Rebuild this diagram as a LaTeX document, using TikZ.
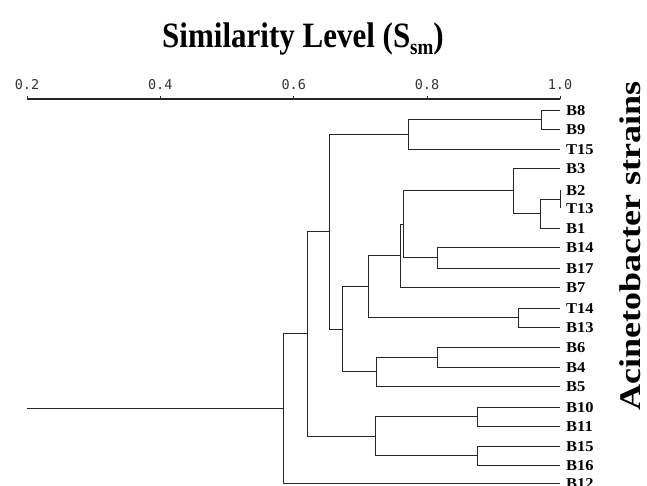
\documentclass[tikz,border=0pt]{standalone}
\usepackage{fontspec}
\setmainfont{Liberation Serif}
\newfontfamily\tickfont{DejaVu Sans Mono}
\begin{document}
\begin{tikzpicture}[x=1pt,y=-1pt,
  link/.style={line width=0.9pt, draw=black!85},
  axisline/.style={line width=1.7pt, draw=black!85},
  tickmark/.style={line width=1pt, draw=black!85},
  leaf/.style={anchor=west, inner xsep=6pt, inner ysep=0pt,
    font=\fontsize{15}{15}\selectfont\bfseries, text height=10pt, text depth=0pt},
  ticklabel/.style={font=\tickfont\fontsize{13.5}{13.5}\selectfont, inner sep=0pt, text=black!80},
  titletext/.style={font=\fontsize{31}{31}\selectfont\bfseries, inner sep=0pt, anchor=base},
  sidetext/.style={font=\fontsize{30}{30}\selectfont\bfseries, inner sep=0pt, rotate=90},
]
\useasboundingbox[fill=white] (0,0) rectangle (647,485);

% title
\node[titletext] (title) at (303,47) {\scalebox{1}[1.15]{Similarity Level (S\raisebox{-0.22em}{\fontsize{19}{19}\selectfont sm})}};

% axis
\foreach \k/\lab/\xx in {2/0.2/27, 4/0.4/160.3, 6/0.6/293.7, 8/0.8/427, 10/1.0/560} {
  \coordinate (t\k) at (\xx,99);
  \draw[tickmark] (t\k) -- ++(0,-3.5);
  \node[ticklabel] (l\k) at (\xx,85) {\lab};
}
\draw[axisline] (t2) -- (t10);

% leaves
\foreach \n/\yy in {B8/110, B9/129, T15/149, B3/168, B2/190, T13/208, B1/228,
  B14/247, B17/268, B7/287, T14/308, B13/327, B6/347, B4/367, B5/386,
  B10/407, B11/426, B15/446, B16/465, B12/483} {
  \node[leaf] (\n) at (560,\yy) {\scalebox{1.1}[1]{\n}};
}

% internal nodes
\coordinate (n1) at (541,119.5);
\coordinate (n2) at (408,134);
\coordinate (n3) at (560,199);
\coordinate (n4) at (540,213.5);
\coordinate (n5) at (513,190.75);
\coordinate (n6) at (437,257.5);
\coordinate (n7) at (403,224);
\coordinate (n8) at (400,255.5);
\coordinate (n9) at (518,317.5);
\coordinate (n10) at (368,286.5);
\coordinate (n11) at (437,357);
\coordinate (n12) at (376,371.5);
\coordinate (n13) at (342,329);
\coordinate (n14) at (329,231.5);
\coordinate (n15) at (477,416.5);
\coordinate (n16) at (477,455.5);
\coordinate (n17) at (375,436);
\coordinate (n18) at (307,333.75);
\coordinate (n19) at (283,408.4);
\coordinate (root) at (27,408.4);

% connectors
\draw[link] (n1) |- (B8.west);
\draw[link] (n1) |- (B9.west);
\draw[link] (n2) |- (n1);
\draw[link] (n2) |- (T15.west);
\draw[link] (n3) |- (B2.west);
\draw[link] (n3) |- (T13.west);
\draw[link] (n4) |- (n3);
\draw[link] (n4) |- (B1.west);
\draw[link] (n5) |- (B3.west);
\draw[link] (n5) |- (n4);
\draw[link] (n6) |- (B14.west);
\draw[link] (n6) |- (B17.west);
\draw[link] (n7) |- (n5);
\draw[link] (n7) |- (n6);
\draw[link] (n8) |- (n7);
\draw[link] (n8) |- (B7.west);
\draw[link] (n9) |- (T14.west);
\draw[link] (n9) |- (B13.west);
\draw[link] (n10) |- (n8);
\draw[link] (n10) |- (n9);
\draw[link] (n11) |- (B6.west);
\draw[link] (n11) |- (B4.west);
\draw[link] (n12) |- (n11);
\draw[link] (n12) |- (B5.west);
\draw[link] (n13) |- (n10);
\draw[link] (n13) |- (n12);
\draw[link] (n14) |- (n2);
\draw[link] (n14) |- (n13);
\draw[link] (n15) |- (B10.west);
\draw[link] (n15) |- (B11.west);
\draw[link] (n16) |- (B15.west);
\draw[link] (n16) |- (B16.west);
\draw[link] (n17) |- (n15);
\draw[link] (n17) |- (n16);
\draw[link] (n18) |- (n14);
\draw[link] (n18) |- (n17);
\draw[link] (n19) |- (n18);
\draw[link] (n19) |- (B12.west);
\draw[link] (root) -- (n19);

% side label
\node[sidetext] (side) at (630,246) {\scalebox{1.2}[1]{Acinetobacter strains}};
\end{tikzpicture}
\end{document}
